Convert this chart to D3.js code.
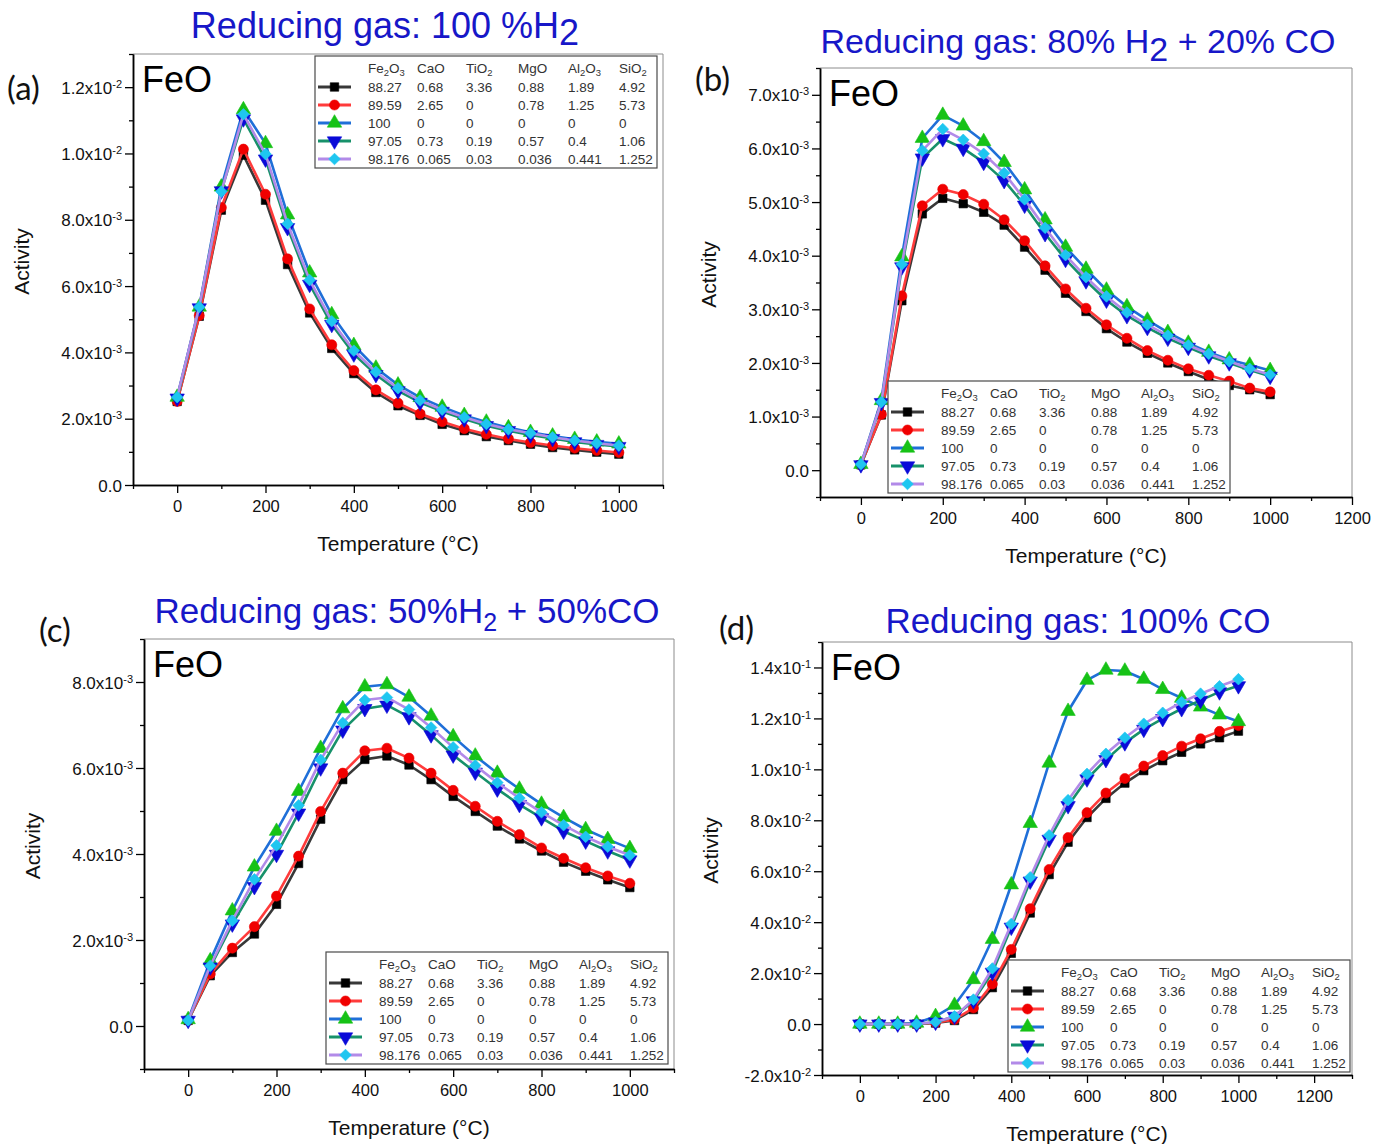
<!DOCTYPE html>
<html><head><meta charset="utf-8">
<script src="https://cdn.jsdelivr.net/npm/d3@7"></script>
<style>
body{margin:0;background:#fff;}
svg{display:block;font-family:"Liberation Sans",Arial,sans-serif;}
</style></head><body>
<svg id="chart" width="1386" height="1144"></svg>
<script>
// ---------------- DATA ----------------
const temps = [0,50,100,150,200,250,300,350,400,450,500,550,600,650,700,750,800,850,900,950,1000];

const legendHeader = ["Fe2O3","CaO","TiO2","MgO","Al2O3","SiO2"];
const legendRows = [
  ["88.27","0.68","3.36","0.88","1.89","4.92"],
  ["89.59","2.65","0","0.78","1.25","5.73"],
  ["100","0","0","0","0","0"],
  ["97.05","0.73","0.19","0.57","0.4","1.06"],
  ["98.176","0.065","0.03","0.036","0.441","1.252"]
];

// (a) 100% H2
const aBlack = [2.52e-3,5.09e-3,8.29e-3,9.95e-3,8.59e-3,6.65e-3,5.19e-3,4.12e-3,3.36e-3,2.79e-3,2.39e-3,2.10e-3,1.83e-3,1.64e-3,1.46e-3,1.34e-3,1.23e-3,1.13e-3,1.06e-3,0.99e-3,0.93e-3];
const aRed   = [2.52e-3,5.11e-3,8.37e-3,10.13e-3,8.77e-3,6.82e-3,5.31e-3,4.23e-3,3.45e-3,2.87e-3,2.47e-3,2.15e-3,1.91e-3,1.70e-3,1.53e-3,1.39e-3,1.28e-3,1.19e-3,1.11e-3,1.04e-3,0.98e-3];
const aPure  = [2.65e-3,5.37e-3,8.99e-3,11.32e-3,10.30e-3,8.15e-3,6.40e-3,5.14e-3,4.21e-3,3.53e-3,3.02e-3,2.64e-3,2.35e-3,2.10e-3,1.90e-3,1.73e-3,1.59e-3,1.48e-3,1.38e-3,1.30e-3,1.24e-3];
const aS4    = [2.62e-3,5.34e-3,8.87e-3,11.04e-3,9.83e-3,7.76e-3,6.05e-3,4.84e-3,3.95e-3,3.33e-3,2.84e-3,2.49e-3,2.22e-3,1.99e-3,1.79e-3,1.64e-3,1.51e-3,1.40e-3,1.30e-3,1.22e-3,1.16e-3];
const aS5    = [2.65e-3,5.37e-3,8.85e-3,11.18e-3,9.98e-3,7.88e-3,6.18e-3,4.94e-3,4.05e-3,3.41e-3,2.92e-3,2.55e-3,2.27e-3,2.04e-3,1.84e-3,1.68e-3,1.56e-3,1.44e-3,1.34e-3,1.26e-3,1.19e-3];

// (b) 80% H2 + 20% CO
const bBlack = [0.10e-3,1.03e-3,3.16e-3,4.78e-3,5.07e-3,4.97e-3,4.81e-3,4.57e-3,4.16e-3,3.73e-3,3.30e-3,2.96e-3,2.64e-3,2.39e-3,2.18e-3,2.00e-3,1.84e-3,1.69e-3,1.58e-3,1.50e-3,1.41e-3];
const bRed   = [0.10e-3,1.04e-3,3.25e-3,4.93e-3,5.24e-3,5.14e-3,4.96e-3,4.67e-3,4.28e-3,3.81e-3,3.38e-3,3.02e-3,2.71e-3,2.46e-3,2.23e-3,2.05e-3,1.89e-3,1.77e-3,1.66e-3,1.53e-3,1.46e-3];
const bPure  = [0.11e-3,1.30e-3,3.98e-3,6.19e-3,6.62e-3,6.42e-3,6.13e-3,5.74e-3,5.23e-3,4.67e-3,4.16e-3,3.75e-3,3.36e-3,3.05e-3,2.80e-3,2.57e-3,2.37e-3,2.20e-3,2.06e-3,1.96e-3,1.86e-3];
const bS4    = [0.10e-3,1.26e-3,3.79e-3,5.82e-3,6.18e-3,6.00e-3,5.74e-3,5.40e-3,4.94e-3,4.41e-3,3.93e-3,3.53e-3,3.17e-3,2.88e-3,2.66e-3,2.46e-3,2.29e-3,2.13e-3,2.00e-3,1.87e-3,1.75e-3];
const bS5    = [0.11e-3,1.27e-3,3.84e-3,5.96e-3,6.36e-3,6.16e-3,5.90e-3,5.54e-3,5.05e-3,4.52e-3,4.01e-3,3.60e-3,3.24e-3,2.94e-3,2.71e-3,2.51e-3,2.33e-3,2.17e-3,2.03e-3,1.89e-3,1.78e-3];

// (c) 50% H2 + 50% CO
const cBlack = [0.13e-3,1.17e-3,1.71e-3,2.14e-3,2.83e-3,3.78e-3,4.81e-3,5.73e-3,6.20e-3,6.28e-3,6.07e-3,5.73e-3,5.34e-3,4.99e-3,4.65e-3,4.35e-3,4.07e-3,3.81e-3,3.60e-3,3.40e-3,3.22e-3];
const cRed   = [0.13e-3,1.21e-3,1.81e-3,2.31e-3,3.02e-3,3.95e-3,4.99e-3,5.88e-3,6.40e-3,6.46e-3,6.23e-3,5.88e-3,5.48e-3,5.11e-3,4.76e-3,4.45e-3,4.14e-3,3.90e-3,3.68e-3,3.49e-3,3.32e-3];
const cPure  = [0.15e-3,1.52e-3,2.68e-3,3.70e-3,4.53e-3,5.46e-3,6.46e-3,7.38e-3,7.89e-3,7.94e-3,7.65e-3,7.21e-3,6.73e-3,6.28e-3,5.88e-3,5.51e-3,5.16e-3,4.85e-3,4.57e-3,4.34e-3,4.13e-3];
const cS4    = [0.13e-3,1.37e-3,2.37e-3,3.24e-3,3.99e-3,4.95e-3,6.00e-3,6.88e-3,7.38e-3,7.46e-3,7.19e-3,6.77e-3,6.30e-3,5.90e-3,5.51e-3,5.15e-3,4.84e-3,4.53e-3,4.30e-3,4.07e-3,3.86e-3];
const cS5    = [0.13e-3,1.40e-3,2.45e-3,3.41e-3,4.20e-3,5.13e-3,6.19e-3,7.05e-3,7.58e-3,7.64e-3,7.36e-3,6.94e-3,6.48e-3,6.06e-3,5.66e-3,5.30e-3,4.97e-3,4.67e-3,4.40e-3,4.17e-3,3.97e-3];

// (d) 100% CO
const dBlack = [0,0,0,0,0.04e-2,0.14e-2,0.57e-2,1.43e-2,2.78e-2,4.36e-2,5.87e-2,7.14e-2,8.11e-2,8.86e-2,9.46e-2,9.95e-2,10.34e-2,10.67e-2,11.00e-2,11.24e-2,11.50e-2];
const dRed   = [0,0,0,0,0.05e-2,0.18e-2,0.63e-2,1.57e-2,2.93e-2,4.53e-2,6.07e-2,7.32e-2,8.30e-2,9.07e-2,9.64e-2,10.13e-2,10.54e-2,10.91e-2,11.20e-2,11.49e-2,11.72e-2];
const dPure  = [0,0,0,0.04e-2,0.30e-2,0.74e-2,1.75e-2,3.33e-2,5.47e-2,7.88e-2,10.25e-2,12.28e-2,13.50e-2,13.90e-2,13.86e-2,13.54e-2,13.14e-2,12.80e-2,12.45e-2,12.14e-2,11.88e-2];
const dS4    = [0,0,0,0,0.07e-2,0.30e-2,0.91e-2,2.03e-2,3.80e-2,5.61e-2,7.25e-2,8.57e-2,9.62e-2,10.38e-2,11.04e-2,11.57e-2,11.99e-2,12.38e-2,12.71e-2,13.04e-2,13.28e-2];
const dS5    = [0,0,0,0,0.08e-2,0.30e-2,0.96e-2,2.18e-2,3.93e-2,5.76e-2,7.41e-2,8.79e-2,9.82e-2,10.61e-2,11.24e-2,11.79e-2,12.22e-2,12.64e-2,12.97e-2,13.26e-2,13.54e-2];

// tick values
const xMajor1000 = [0,200,400,600,800,1000];
const xMinor1000 = [-100,100,300,500,700,900,1100];
const xMajor1200 = [0,200,400,600,800,1000,1200];
const xMinor1200 = [-100,100,300,500,700,900,1100];
const xMinor1300 = [-100,100,300,500,700,900,1100,1300];
const yMajorA = [0,2e-3,4e-3,6e-3,8e-3,1.0e-2,1.2e-2];
const yMinorA = [1e-3,3e-3,5e-3,7e-3,9e-3,1.1e-2,1.3e-2];
const yMajorB = [0,1e-3,2e-3,3e-3,4e-3,5e-3,6e-3,7e-3];
const yMinorB = [-0.5e-3,0.5e-3,1.5e-3,2.5e-3,3.5e-3,4.5e-3,5.5e-3,6.5e-3,7.5e-3];
const yMajorC = [0,2e-3,4e-3,6e-3,8e-3];
const yMinorC = [-1e-3,1e-3,3e-3,5e-3,7e-3,9e-3];
const yMajorD = [-2e-2,0,2e-2,4e-2,6e-2,8e-2,1.0e-1,1.2e-1,1.4e-1];
const yMinorD = [-1e-2,1e-2,3e-2,5e-2,7e-2,9e-2,1.1e-1,1.3e-1,1.5e-1];

// ---------------- STYLE / LAYOUT ----------------
const styles = [
  {line:'#383838', fill:'#000000', sym:'square'},
  {line:'#ff3b3b', fill:'#f00000', sym:'circle'},
  {line:'#1f6fd8', fill:'#16c216', sym:'triangle'},
  {line:'#17916a', fill:'#0a0ad8', sym:'down'},
  {line:'#b28ae8', fill:'#1ec6f0', sym:'diamond'}
];
const titleColor = '#1717c8';

const panels = [
  {label:'(a)', lab:[7,100], title:[{t:'Reducing gas: 100 %H'},{t:'2',dy:7},], tc:[385,38], ts:36,
   frame:{x0:133,x1:663,y0:54,y1:485}, xd:[-100,1100], yd:[0,0.013],
   xM:xMajor1000, xm:xMinor1000, yM:yMajorA, ym:yMinorA,
   series:[aBlack,aRed,aPure,aS4,aS5], leg:[315,56]},
  {label:'(b)', lab:[695,91], title:[{t:'Reducing gas: 80% H'},{t:'2',dy:8},{t:' + 20% CO',dy:-8}], tc:[1078,53], ts:34,
   frame:{x0:820,x1:1352,y0:68,y1:497}, xd:[-100,1200], yd:[-0.0005,0.0075],
   xM:xMajor1200, xm:xMinor1200, yM:yMajorB, ym:yMinorB,
   series:[bBlack,bRed,bPure,bS4,bS5], leg:[888,381]},
  {label:'(c)', lab:[39,642], title:[{t:'Reducing gas: 50%H'},{t:'2',dy:8,fs:25},{t:' + 50%CO',dy:-8}], tc:[407,623], ts:35,
   frame:{x0:144,x1:674,y0:639,y1:1069}, xd:[-100,1100], yd:[-0.001,0.009],
   xM:xMajor1000, xm:xMinor1000, yM:yMajorC, ym:yMinorC,
   series:[cBlack,cRed,cPure,cS4,cS5], leg:[326,952]},
  {label:'(d)', lab:[719,640], title:[{t:'Reducing gas: 100% CO'}], tc:[1078,633], ts:35,
   frame:{x0:822,x1:1352,y0:642,y1:1075}, xd:[-100,1300], yd:[-0.02,0.15],
   xM:xMajor1200, xm:xMinor1300, yM:yMajorD, ym:yMinorD,
   series:[dBlack,dRed,dPure,dS4,dS5], leg:[1008,960]}
];

const svg = d3.select('#chart');
svg.append('rect').attr('width',1386).attr('height',1144).attr('fill','#fff');

function fmtSci(v){
  if (Math.abs(v) < 1e-12) return {m:'0.0', e:null};
  const e = Math.floor(Math.log10(Math.abs(v)) + 1e-9);
  const m = (v/Math.pow(10,e)).toFixed(1);
  return {m: m + 'x10', e: String(e)};
}

const symGen = {
  square: d3.symbol(d3.symbolSquare, 72),
  circle: d3.symbol(d3.symbolCircle, 80),
  triangle: d3.symbol(d3.symbolTriangle, 90),
  down: d3.symbol(d3.symbolTriangle, 90),
  diamond: d3.symbol(d3.symbolSquare, 68)
};
const symRot = {square:0, circle:0, triangle:0, down:180, diamond:45};

function drawMarker(g, cx, cy, st){
  g.append('path').attr('d', symGen[st.sym]())
    .attr('transform', `translate(${cx},${cy}) rotate(${symRot[st.sym]})`)
    .attr('fill', st.fill).attr('stroke', st.fill).attr('stroke-width', 0.6);
}

function chemText(sel, str, fs){
  const parts = str.match(/(\d+|\D+)/g);
  let down = false;
  parts.forEach(p=>{
    const isNum = /^\d+$/.test(p);
    const ts = sel.append('tspan').text(p);
    if (isNum){ ts.attr('font-size', fs*0.7).attr('dy', down ? 0 : 3); down = true; }
    else { if (down){ ts.attr('dy', -3); down = false; } }
  });
}

function drawLegend(g, lx, ly){
  const lg = g.append('g').attr('transform', `translate(${lx},${ly})`);
  lg.append('rect').attr('width', 342).attr('height', 112)
    .attr('fill', '#fff').attr('stroke', '#4a4a4a').attr('stroke-width', 1.2);
  const colX = [53,102,151,203,253,304];
  const fs = 13.5;
  legendHeader.forEach((h,i)=>{
    const t = lg.append('text').attr('x', colX[i]).attr('y', 17)
      .attr('font-size', fs).attr('fill', '#333');
    chemText(t, h, fs);
  });
  legendRows.forEach((row,r)=>{
    const cy = 31 + 18*r;
    const st = styles[r];
    lg.append('line').attr('x1', 3).attr('x2', 36).attr('y1', cy).attr('y2', cy)
      .attr('stroke', st.line).attr('stroke-width', 3);
    drawMarker(lg, 19.5, cy, st);
    row.forEach((v,i)=>{
      lg.append('text').attr('x', colX[i]).attr('y', cy + 5)
        .attr('font-size', fs).attr('fill', '#333').text(v);
    });
  });
}

function styleAxis(ax){
  ax.attr('font-family', null).attr('font-size', null);
  ax.select('.domain').attr('stroke', '#000').attr('stroke-width', 1.5);
  ax.selectAll('.tick line').attr('stroke', '#000').attr('stroke-width', 1.3);
  ax.selectAll('.tick text').attr('fill', '#111').attr('font-size', 16.5);
}

panels.forEach(p=>{
  const f = p.frame;
  const g = svg.append('g');
  const x = d3.scaleLinear().domain(p.xd).range([f.x0, f.x1]);
  const y = d3.scaleLinear().domain(p.yd).range([f.y1, f.y0]);

  // top/right frame
  g.append('path').attr('d', `M${f.x0},${f.y0}H${f.x1}V${f.y1}`)
    .attr('fill', 'none').attr('stroke', '#8c8c8c').attr('stroke-width', 1);

  // x axis
  const xm = g.append('g').attr('transform', `translate(0,${f.y1})`)
    .call(d3.axisBottom(x).tickValues(p.xm).tickSize(4).tickSizeOuter(0).tickFormat(''));
  styleAxis(xm);
  const xa = g.append('g').attr('transform', `translate(0,${f.y1})`)
    .call(d3.axisBottom(x).tickValues(p.xM).tickSize(8).tickSizeOuter(0).tickPadding(7).tickFormat(d3.format('d')));
  styleAxis(xa);

  // y axis
  const ymn = g.append('g').attr('transform', `translate(${f.x0},0)`)
    .call(d3.axisLeft(y).tickValues(p.ym).tickSize(4).tickSizeOuter(0).tickFormat(''));
  styleAxis(ymn);
  const ya = g.append('g').attr('transform', `translate(${f.x0},0)`)
    .call(d3.axisLeft(y).tickValues(p.yM).tickSize(8).tickSizeOuter(0).tickFormat(''));
  styleAxis(ya);
  ya.selectAll('.tick text').remove();
  ya.selectAll('.tick').each(function(d){
    const t = d3.select(this).append('text').attr('x', -11).attr('dy', '0.36em')
      .attr('text-anchor', 'end').attr('fill', '#111').attr('font-size', 17);
    const fm = fmtSci(d);
    t.append('tspan').text(fm.m);
    if (fm.e) t.append('tspan').attr('dy', '-0.55em').attr('font-size', 11).text(fm.e);
  });

  // series
  const line = d3.line().x((d,i)=>x(temps[i])).y(d=>y(d));
  p.series.forEach((s,k)=>{
    const st = styles[k];
    g.append('path').datum(s).attr('d', line).attr('fill', 'none')
      .attr('stroke', st.line).attr('stroke-width', 2.6).attr('stroke-linejoin', 'round');
    s.forEach((v,i)=> drawMarker(g, x(temps[i]), y(v), st));
  });

  // FeO
  g.append('text').attr('x', f.x0 + 9).attr('y', f.y0 + 38)
    .attr('font-size', 36).attr('fill', '#000').text('FeO');

  // legend
  drawLegend(g, p.leg[0], p.leg[1]);

  // axis titles
  const cx = (f.x0 + f.x1)/2, cy = (f.y0 + f.y1)/2 - 8;
  g.append('text').attr('transform', `translate(${f.x0 - 111},${cy}) rotate(-90)`)
    .attr('text-anchor', 'middle').attr('dy', '0.35em').attr('font-size', 21)
    .attr('fill', '#111').text('Activity');
  g.append('text').attr('x', cx).attr('y', f.y1 + 66).attr('text-anchor', 'middle')
    .attr('font-size', 21).attr('fill', '#111').text('Temperature (\u00B0C)');

  // title
  const tt = g.append('text').attr('x', p.tc[0]).attr('y', p.tc[1]).attr('text-anchor', 'middle')
    .attr('font-size', p.ts).attr('fill', titleColor);
  p.title.forEach(part=>{
    const ts = tt.append('tspan').text(part.t);
    if (part.dy) ts.attr('dy', part.dy);
    if (part.fs) ts.attr('font-size', part.fs);
  });

  // panel label
  g.append('text').attr('x', p.lab[0]).attr('y', p.lab[1])
    .attr('font-family', 'Lato, "Noto Sans", sans-serif').attr('font-size', 33)
    .attr('fill', '#111').text(p.label);
});
</script>
</body></html>
